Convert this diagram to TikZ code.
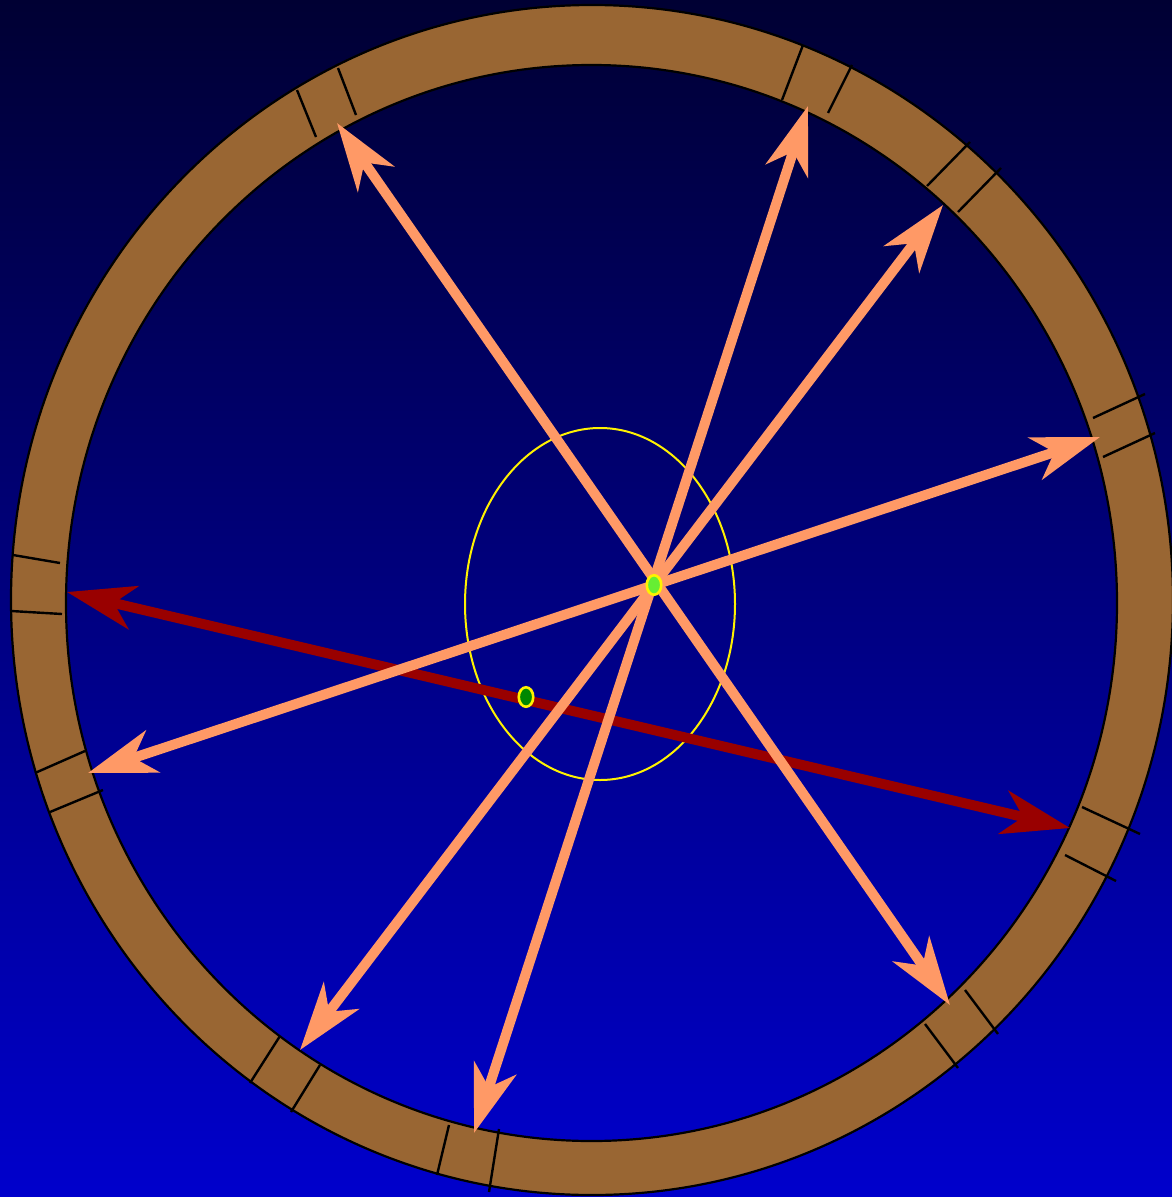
\documentclass[tikz,border=0pt]{standalone}
\usetikzlibrary{arrows.meta,shapes.geometric}
\definecolor{bgtop}{HTML}{000033}
\definecolor{bgbot}{HTML}{0000CC}
\definecolor{ringc}{HTML}{996633}
\definecolor{salmon}{HTML}{FF9966}
\definecolor{darkred}{HTML}{990000}
\definecolor{litegreen}{HTML}{66EE33}
\definecolor{darkgreen}{HTML}{008800}
\tikzset{
  ray/.style={line width=10pt, draw=salmon, {Stealth[length=68pt,width=44pt,inset=20pt]}-{Stealth[length=68pt,width=44pt,inset=20pt]}},
  redray/.style={line width=10pt, draw=darkred, {Stealth[length=68pt,width=44pt,inset=20pt]}-{Stealth[length=68pt,width=44pt,inset=20pt]}},
  tick/.style={line width=2.4pt, draw=black},
  dot/.style={ellipse, draw=yellow, line width=2.6pt, minimum width=14.5pt, minimum height=19.5pt, inner sep=0pt},
}
\begin{document}
\begin{tikzpicture}[x=1pt,y=-1pt]
\shade[top color=bgtop, bottom color=bgbot] (0,0) rectangle (1172,1197);
\useasboundingbox (0,0) rectangle (1172,1197);
% ring
\fill[ringc, even odd rule] (592,600) ellipse [x radius=581, y radius=595]
  (591.5,603) ellipse [x radius=525.5, y radius=538];
\draw[line width=2.2pt] (592,600) ellipse [x radius=581, y radius=595];
\draw[line width=2.2pt] (591.5,603) ellipse [x radius=525.5, y radius=538];
% ticks
\draw[tick] (297,90)--(316,137); \draw[tick] (338,68)--(356,115);
\draw[tick] (782,100)--(803,45); \draw[tick] (828,113)--(852,65);
\draw[tick] (927,186)--(970,142); \draw[tick] (958,212)--(1001,168);
\draw[tick] (1093,418)--(1145,394); \draw[tick] (1103,457)--(1155,433);
\draw[tick] (13,555)--(60,563); \draw[tick] (11,611)--(62,614);
\draw[tick] (35,773)--(85,751); \draw[tick] (50,812)--(103,790);
\draw[tick] (1082,807)--(1140,834); \draw[tick] (1065,855)--(1116,881);
\draw[tick] (925,1024)--(958,1068); \draw[tick] (965,990)--(998,1034);
\draw[tick] (250,1083)--(280,1036); \draw[tick] (291,1112)--(320,1065);
\draw[tick] (449,1125)--(437,1175); \draw[tick] (499,1129)--(489,1192);
% yellow ellipse
\draw[yellow, line width=2pt] (600,604) ellipse [x radius=135, y radius=176];
% end points
\coordinate (a1) at (337,123); \coordinate (b1) at (950,1005);
\coordinate (a2) at (808,106); \coordinate (b2) at (474,1133);
\coordinate (a3) at (943,205); \coordinate (b3) at (300,1050);
\coordinate (a4) at (1100,437); \coordinate (b4) at (88,773);
\coordinate (r1) at (67,592); \coordinate (r2) at (1070,828);
\draw[redray] (r1) -- (r2);
\draw[ray] (a1) -- (b1);
\draw[ray] (a2) -- (b2);
\draw[ray] (a3) -- (b3);
\draw[ray] (a4) -- (b4);
% dots
\node[dot, fill=litegreen] (c) at (654,585) {};
\node[dot, fill=darkgreen] (f) at (526,697) {};
\end{tikzpicture}
\end{document}
